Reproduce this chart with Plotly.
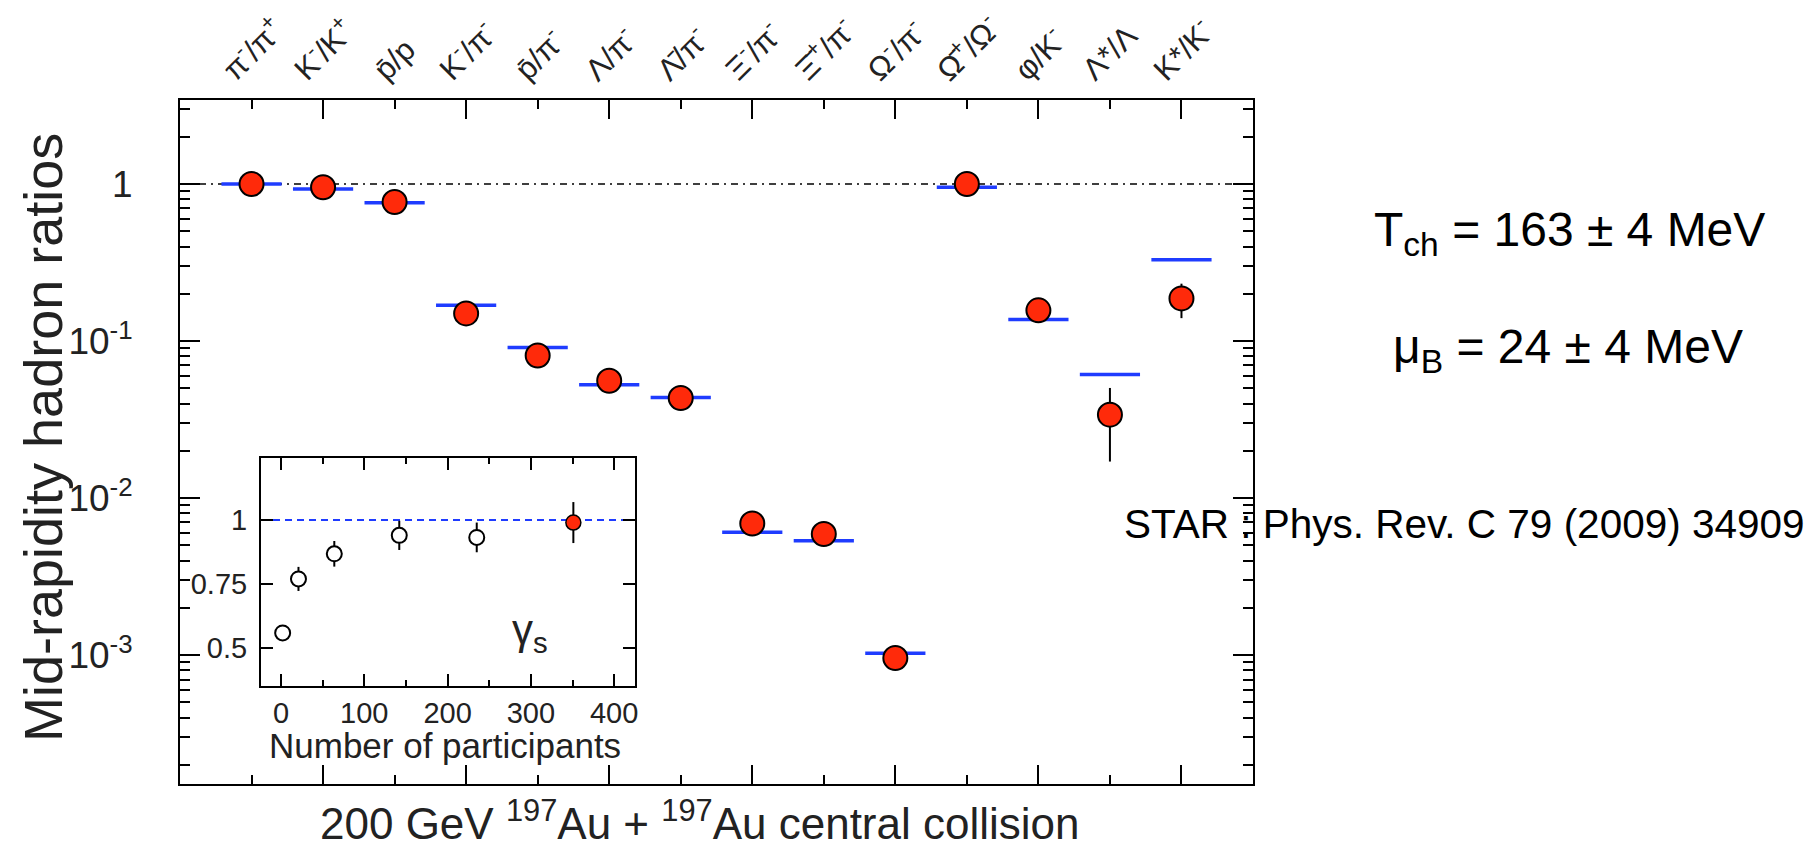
import plotly.graph_objects as go

# ---------------- data ----------------
categories = [
    "π<sup>-</sup>/π<sup>+</sup>", "K<sup>-</sup>/K<sup>+</sup>", "p\u0304/p",
    "K<sup>-</sup>/π<sup>-</sup>", "p\u0304/π<sup>-</sup>", "Λ/π<sup>-</sup>",
    "Λ\u0304/π<sup>-</sup>", "Ξ<sup>-</sup>/π<sup>-</sup>", "Ξ\u0304<sup>+</sup>/π<sup>-</sup>",
    "Ω<sup>-</sup>/π<sup>-</sup>", "Ω\u0304<sup>+</sup>/Ω<sup>-</sup>", "φ/K<sup>-</sup>",
    "Λ*/Λ", "K*/K<sup>-</sup>",
]
measured = [1.0, 0.953, 0.768, 0.150, 0.081, 0.0559, 0.0434, 0.0069, 0.00591,
            0.00096, 1.0, 0.157, 0.034, 0.187]
err_plus = [0, 0, 0, 0, 0, 0, 0, 0, 0, 0, 0, 0, 0.0163, 0.045]
err_minus = [0, 0, 0, 0, 0, 0, 0, 0, 0, 0, 0, 0, 0.0169, 0.047]
model = [1.0, 0.93, 0.76, 0.169, 0.091, 0.0527, 0.0438, 0.00607, 0.00535,
         0.00103, 0.954, 0.137, 0.0612, 0.329]

ytick_vals = [1, 0.1, 0.01, 0.001]
ytick_text = ["1", "10<sup>-1</sup>", "10<sup>-2</sup>", "10<sup>-3</sup>"]

npart_open = [2, 21, 64, 142, 235]
gamma_open = [0.559, 0.77, 0.868, 0.94, 0.932]
gamma_open_err = [0.02, 0.047, 0.05, 0.057, 0.058]
npart_central = [351]
gamma_central = [0.99]
gamma_central_err = [0.08]
inset_xticks = [0, 100, 200, 300, 400]
inset_yticks = [0.5, 0.75, 1]
inset_yticktext = ["0.5", "0.75", "1"]

# ---------------- layout geometry (pixels) ----------------
W, H = 1813, 858
L, R, T, B = 172, 1245, 92, 776


def px_x(p):
    return (p - L) / (R - L)


def px_y(p):
    return (B - p) / (B - T)


FONT = "Liberation Sans, Arial, Helvetica, sans-serif"
RED = "#ff2a0a"
BLUE = "#1f3cff"
TXT = "#222"

xcat = list(range(1, len(categories) + 1))

fig = go.Figure()

# model (blue bars)
fig.add_trace(go.Scatter(
    x=xcat, y=model, mode="markers",
    marker=dict(symbol="line-ew", size=43, line=dict(color=BLUE, width=3.5)),
    xaxis="x", yaxis="y", showlegend=False, hoverinfo="skip"))

# measured (red circles)
fig.add_trace(go.Scatter(
    x=xcat, y=measured, mode="markers",
    marker=dict(symbol="circle", size=24, color=RED, line=dict(color="black", width=2)),
    error_y=dict(type="data", array=err_plus, arrayminus=err_minus, color="black",
                 thickness=2, width=0),
    xaxis="x", yaxis="y", showlegend=False))

# inset: open circles
fig.add_trace(go.Scatter(
    x=npart_open, y=gamma_open, mode="markers",
    marker=dict(symbol="circle", size=15, color="white", line=dict(color="black", width=2)),
    error_y=dict(type="data", array=gamma_open_err, color="black", thickness=2, width=0),
    xaxis="x3", yaxis="y3", showlegend=False))
fig.add_trace(go.Scatter(
    x=npart_central, y=gamma_central, mode="markers",
    marker=dict(symbol="circle", size=15, color=RED, line=dict(color="black", width=1.5)),
    error_y=dict(type="data", array=gamma_central_err, color="black", thickness=2, width=0),
    xaxis="x3", yaxis="y3", showlegend=False))

# minor tick values for log axis
minor_log = []
for k in range(-4, 1):
    for m in range(2, 10):
        v = m * 10 ** k
        if 1.5e-4 < v < 3.4:
            minor_log.append(v)

fig.update_layout(
    width=W, height=H, autosize=False,
    margin=dict(l=L, r=W - R, t=T, b=H - B, pad=0),
    paper_bgcolor="white", plot_bgcolor="rgba(0,0,0,0)",
    font=dict(family=FONT, color="black"),
    xaxis=dict(
        domain=[0, 1], range=[0, 15], anchor="y",
        showline=True, linecolor="black", linewidth=2, mirror="ticks",
        tickmode="array", tickvals=[2, 4, 6, 8, 10, 12, 14], showticklabels=False,
        ticks="inside", ticklen=19, tickwidth=2, tickcolor="black",
        minor=dict(tickmode="array", tickvals=[1, 3, 5, 7, 9, 11, 13], ticks="inside",
                   ticklen=9, tickwidth=2, tickcolor="black"),
        showgrid=False, zeroline=False, fixedrange=True),
    yaxis=dict(
        domain=[0, 1], type="log", range=[-3.82, 0.535], anchor="x",
        showline=True, linecolor="black", linewidth=2, mirror="ticks",
        tickmode="array", tickvals=ytick_vals, ticktext=ytick_text,
        ticks="inside", ticklen=20, tickwidth=2, tickcolor="black",
        ticklabelstandoff=38,
        tickfont=dict(size=37, family=FONT, color=TXT),
        minor=dict(tickmode="array", tickvals=minor_log, ticks="inside",
                   ticklen=10, tickwidth=2, tickcolor="black"),
        showgrid=False, zeroline=False),
    xaxis3=dict(
        domain=[px_x(253), px_x(627)], range=[-24, 425], anchor="y3",
        showline=True, linecolor="black", linewidth=2, mirror="ticks",
        tickmode="array", tickvals=inset_xticks,
        ticks="inside", ticklen=12, tickwidth=2, tickcolor="black",
        minor=dict(tickmode="array", tickvals=[50, 150, 250, 350], ticks="inside",
                   ticklen=6, tickwidth=2, tickcolor="black"),
        tickfont=dict(size=29, family=FONT, color=TXT),
        showgrid=False, zeroline=False),
    yaxis3=dict(
        domain=[px_y(678), px_y(450)], range=[0.352, 1.242], anchor="x3",
        showline=True, linecolor="black", linewidth=2, mirror="ticks",
        tickmode="array", tickvals=inset_yticks, ticktext=inset_yticktext,
        ticks="inside", ticklen=12, tickwidth=2, tickcolor="black",
        ticklabelstandoff=6,
        tickfont=dict(size=29, family=FONT, color=TXT),
        showgrid=False, zeroline=False),
)

# reference lines
fig.add_shape(type="line", xref="x domain", yref="y", x0=0, x1=1, y0=1, y1=1,
              line=dict(color="black", width=1.6, dash="7px,5px,2px,5px"), layer="below")
fig.add_shape(type="line", xref="x3 domain", yref="y3", x0=0, x1=1, y0=1, y1=1,
              line=dict(color=BLUE, width=2.2, dash="7px,5px"), layer="below")

# top category labels
for xc, lab in zip(xcat, categories):
    fig.add_annotation(x=xc, xref="x", y=1, yref="paper", yshift=10,
                       xanchor="center", yanchor="bottom", textangle=-45,
                       text=lab, showarrow=False,
                       font=dict(size=31, family=FONT, color=TXT))

# text annotations
fig.add_annotation(text="Mid-rapidity hadron ratios", xref="paper", yref="paper",
                   x=px_x(35), y=px_y(430), textangle=-90, showarrow=False,
                   xanchor="center", yanchor="middle",
                   font=dict(size=54, family=FONT, color=TXT))
fig.add_annotation(text="200 GeV <sup>197</sup>Au + <sup>197</sup>Au central collision",
                   xref="paper", yref="paper", x=px_x(692), y=px_y(812),
                   showarrow=False, xanchor="center", yanchor="middle",
                   font=dict(size=44, family=FONT, color=TXT))
fig.add_annotation(text="T<sub>ch</sub> = 163 ± 4 MeV", xref="paper", yref="paper",
                   x=px_x(1561), y=px_y(225), showarrow=False,
                   xanchor="center", yanchor="middle",
                   font=dict(size=48, family=FONT, color="black"))
fig.add_annotation(text="μ<sub>B</sub> = 24 ± 4 MeV", xref="paper", yref="paper",
                   x=px_x(1560), y=px_y(342), showarrow=False,
                   xanchor="center", yanchor="middle",
                   font=dict(size=48, family=FONT, color="black"))
fig.add_annotation(text="STAR : Phys. Rev. C 79 (2009) 34909", xref="paper", yref="paper",
                   x=px_x(1114), y=px_y(516), showarrow=False,
                   xanchor="left", yanchor="middle",
                   font=dict(size=40.5, family=FONT, color="black"))
fig.add_annotation(text="γ<sub>s</sub>", xref="paper", yref="paper",
                   x=px_x(522), y=px_y(624), showarrow=False,
                   xanchor="center", yanchor="middle",
                   font=dict(size=42, family=FONT, color=TXT))
fig.add_annotation(text="Number of participants", xref="paper", yref="paper",
                   x=px_x(437), y=px_y(737), showarrow=False,
                   xanchor="center", yanchor="middle",
                   font=dict(size=35, family=FONT, color=TXT))

fig.write_html("out.html")
